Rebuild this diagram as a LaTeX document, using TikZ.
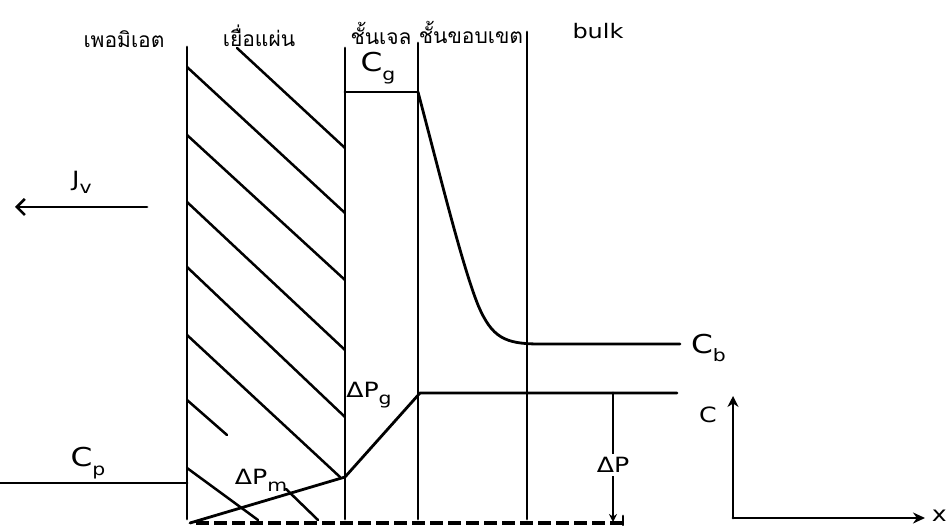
\documentclass[tikz,border=0pt]{standalone}
\usepackage{fontspec}
\setmainfont{DejaVu Sans}
\newfontfamily\thaifont[Script=Thai]{Loma}
\usetikzlibrary{arrows.meta}
\newcommand\wide[1]{\scalebox{1.2}[1]{#1}}
\newcommand\lsub[1]{\raisebox{-0.6ex}{\fontsize{17}{17}\selectfont #1}}
\tikzset{
  ln/.style={line width=2.8pt, line cap=round},
  hatch/.style={line width=2.5pt, line cap=round},
  thailab/.style={font=\thaifont\fontsize{21}{23}\selectfont, inner sep=0pt},
  lab/.style={font=\fontsize{21}{23}\selectfont, inner sep=0pt},
  biglab/.style={font=\fontsize{26}{28}\selectfont, inner sep=0pt},
}
\begin{document}
\begin{tikzpicture}[x=1pt,y=-1pt]
\useasboundingbox (0,0) rectangle (948,526);
\fill[white] (0,0) rectangle (948,526);
% header labels
\node[thailab] (hperm) at (124,39) {เพอมิเอต};
\node[thailab] (hmem) at (259,36) {เยื่อแผ่น};
\node[thailab] (hgel) at (381,33) {ชั้นเจล};
\node[thailab] (hbl) at (471,32) {ชั้นขอบเขต};
\node[lab, font=\fontsize{20}{22}\selectfont] (hbulk) at (598,31) {\wide{bulk}};
% vertical boundaries
\coordinate (m1t) at (187,47); \coordinate (m1b) at (187,519);
\coordinate (g1t) at (345,48); \coordinate (g1b) at (345,519);
\coordinate (g2t) at (418,43); \coordinate (g2b) at (418,519);
\coordinate (b1t) at (527,32); \coordinate (b1b) at (527,519);
\draw[ln] (m1t) -- (m1b);
\draw[ln] (g1t) -- (g1b);
\draw[ln] (g2t) -- (g2b);
\draw[ln] (b1t) -- (b1b);
% hatching of membrane
\draw[hatch] (237,48) -- (345,148);
\draw[hatch] (187,67) -- (345,213);
\draw[hatch] (187,135) -- (345,280);
\draw[hatch] (187,202) -- (345,350);
\draw[hatch] (187,267) -- (345,417);
\draw[hatch] (187,335) -- (340,477);
\draw[hatch] (187,400) -- (227,435);
\draw[hatch] (286,489) -- (318,520);
\draw[hatch] (187,468) -- (258,520);
% gel concentration
\draw[ln] (g1t |- 0,92) coordinate (cg1) -- (g2t |- 0,92) coordinate (cg2);
\node[biglab] (cg) at (378,68) {\wide{C\lsub{g}}};
% concentration profile
\coordinate (cbend) at (680,344);
\draw[ln] (418,92) .. controls (440,175) and (462,265) .. (478,305)
  .. controls (492,338) and (505,344) .. (540,344) -- (cbend);
\node[biglab, anchor=west] (cb) at (691,348) {\wide{C\lsub{b}}};
% pressure profile
\coordinate (p0) at (190,523);
\coordinate (pk) at (345,477);
\coordinate (pg) at (420,393);
\coordinate (pe) at (677,393);
\draw[ln, line join=round] (p0) -- (pk) -- (pg) -- (pe);
\node[lab] (dpg) at (369,395) {\wide{ΔP\lsub{g}}};
\node[lab] (dpm) at (261,480) {\wide{ΔP\lsub{m}}};
% delta P arrow
\coordinate (dpt) at (613,393);
\coordinate (dpb) at (613,522);
\draw[ln, -{Stealth[length=8pt,width=8pt]}] (dpt) -- (dpb);
\node[lab, fill=white, inner sep=3pt] (dp) at (613,465) {\wide{ΔP}};
% dashed baseline
\draw[line width=3.2pt, dash pattern=on 13pt off 5pt] (196,523) -- (623,523);
\draw[ln] (623,516) -- (623,525);
% permeate concentration
\coordinate (cp1) at (0,483); \coordinate (cp2) at (187,483);
\draw[ln] (cp1) -- (cp2);
\node[biglab] (cp) at (88,463) {\wide{C\lsub{p}}};
% flux
\coordinate (jv1) at (147,207); \coordinate (jv2) at (15,207);
\draw[ln, -{Straight Barb[length=8pt,width=16pt,line width=2.6pt]}] (jv1) -- (jv2);
\node[lab] (jv) at (82,182) {\wide{J\lsub{v}}};
% axes
\coordinate (ax0) at (733,518);
\coordinate (axy) at (733,396);
\coordinate (axx) at (925,518);
\draw[ln, -{Stealth[length=11pt,width=11pt]}] (ax0) -- (axy);
\draw[ln, -{Stealth[length=12pt,width=11pt]}] (ax0) -- (axx);
\node[lab] (lc) at (708,415) {\wide{C}};
\node[lab, anchor=east] (lx) at (947,516) {\wide{x}};
\end{tikzpicture}
\end{document}
